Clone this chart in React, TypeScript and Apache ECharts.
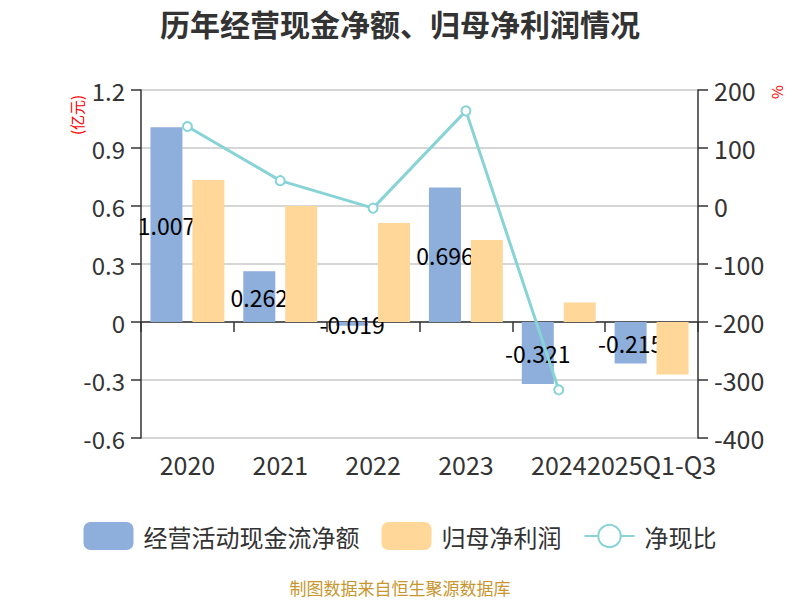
import React, { useEffect, useRef } from "react";
import * as echarts from "echarts";

const categories = ["2020", "2021", "2022", "2023", "2024", "2025Q1-Q3"];
const cashFlow = [1.007, 0.262, -0.019, 0.696, -0.321, -0.215];
const netProfit = [0.735, 0.6, 0.512, 0.424, 0.101, -0.271];
const cashRatio: (number | null)[] = [137, 43.7, -3.7, 164, -317, null];
const leftTicks = { min: -0.6, max: 1.2, interval: 0.3 };
const rightTicks = { min: -400, max: 200, interval: 100 };

export default function App() {
  const ref = useRef<HTMLDivElement>(null);
  useEffect(() => {
    if (!ref.current) return;
    const chart = echarts.init(ref.current, undefined, { renderer: "svg" });
    const font = "'Noto Sans CJK SC', 'Noto Sans', sans-serif";
    chart.setOption({
      animation: false,
      textStyle: { fontFamily: font },
      title: [
        {
          text: "历年经营现金净额、归母净利润情况",
          left: "center",
          top: 3,
          textStyle: { fontSize: 30, fontWeight: "bold", color: "#333", fontFamily: font },
        },
        {
          text: "制图数据来自恒生聚源数据库",
          left: "center",
          top: 574,
          textStyle: { fontSize: 17, fontWeight: "normal", color: "#C8962E", fontFamily: font },
        },
      ],
      graphic: [
        {
          type: "text",
          x: 76,
          y: 115,
          rotation: Math.PI / 2,
          style: {
            text: "(亿元)",
            fill: "#ff0000",
            fontSize: 15,
            fontFamily: font,
            align: "center",
            verticalAlign: "middle",
          },
        },
        {
          type: "text",
          x: 776,
          y: 92,
          rotation: Math.PI / 2,
          style: {
            text: "%",
            fill: "#ff0000",
            fontSize: 15,
            fontFamily: font,
            align: "center",
            verticalAlign: "middle",
          },
        },
      ],
      legend: {
        top: 517,
        left: "center",
        itemWidth: 50,
        itemHeight: 28,
        itemGap: 22,
        textStyle: { fontSize: 24, color: "#333", padding: [0, 0, 0, 5] },
        data: [
          { name: "经营活动现金流净额", icon: "roundRect" },
          { name: "归母净利润", icon: "roundRect" },
          { name: "净现比" },
        ],
      },
      grid: { left: 141, right: 102, top: 90, bottom: 162 },
      xAxis: [
        {
          type: "category",
          data: categories,
          axisLine: { onZero: true, lineStyle: { color: "#333", width: 1.5 } },
          axisTick: { show: true, length: 10, lineStyle: { color: "#333", width: 1.5 } },
          axisLabel: { show: false },
        },
        {
          type: "category",
          data: categories,
          position: "bottom",
          axisLine: { show: false, onZero: false },
          axisTick: { show: false },
          axisLabel: { fontSize: 25, color: "#333", margin: 13, interval: 0 },
        },
      ],
      yAxis: [
        {
          type: "value",
          min: leftTicks.min,
          max: leftTicks.max,
          interval: leftTicks.interval,
          axisLine: { show: true, lineStyle: { color: "#333", width: 1.5 } },
          axisTick: { show: true, length: 10, lineStyle: { color: "#333", width: 1.5 } },
          axisLabel: { fontSize: 24, color: "#333", margin: 16 },
          splitLine: { show: true, lineStyle: { color: "#c8c8c8", width: 1.5 } },
        },
        {
          type: "value",
          min: rightTicks.min,
          max: rightTicks.max,
          interval: rightTicks.interval,
          position: "right",
          axisLine: { show: true, lineStyle: { color: "#333", width: 1.5 } },
          axisTick: { show: true, length: 10, lineStyle: { color: "#333", width: 1.5 } },
          axisLabel: { fontSize: 25, color: "#333", margin: 16 },
          splitLine: { show: false },
        },
      ],
      series: [
        {
          name: "经营活动现金流净额",
          type: "bar",
          data: cashFlow,
          barWidth: 32,
          barGap: "31%",
          itemStyle: { color: "#8EAEDB" },
          z: 2,
          label: {
            show: true,
            position: "inside",
            color: "#000",
            fontSize: 23,
            formatter: (p: any) => String(p.value),
          },
        },
        {
          name: "归母净利润",
          type: "bar",
          data: netProfit,
          barWidth: 32,
          itemStyle: { color: "#FFD899" },
          z: 3,
        },
        {
          name: "净现比",
          type: "line",
          yAxisIndex: 1,
          data: cashRatio,
          symbol: "emptyCircle",
          symbolSize: 9,
          lineStyle: { color: "#88D3D6", width: 3 },
          itemStyle: { color: "#88D3D6", borderWidth: 2 },
          z: 4,
        },
      ],
    });
    return () => chart.dispose();
  }, []);
  return (
    <div
      ref={ref}
      style={{ width: 800, height: 600, position: "absolute", left: 0, top: 0 }}
    />
  );
}
